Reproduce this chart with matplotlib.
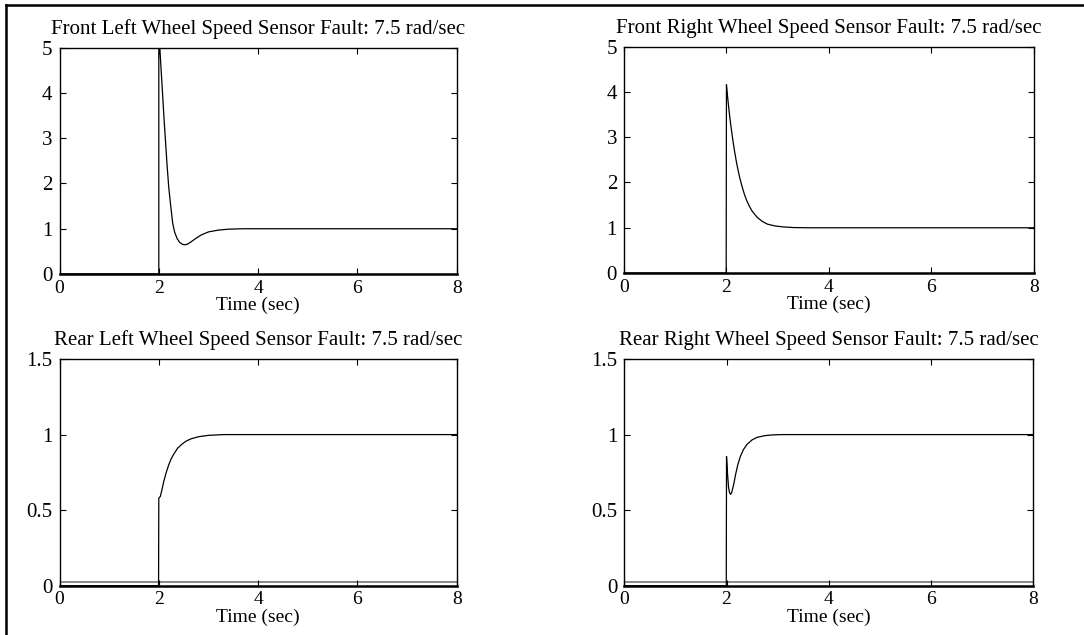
import matplotlib
matplotlib.use("Agg")
import matplotlib.pyplot as plt
from matplotlib.lines import Line2D

plt.rcParams['font.family'] = ['Liberation Serif', 'DejaVu Serif']

# titles of the four panels
titles = [
    "Front Left Wheel Speed Sensor Fault: 7.5 rad/sec",
    "Front Right Wheel Speed Sensor Fault: 7.5 rad/sec",
    "Rear Left Wheel Speed Sensor Fault: 7.5 rad/sec",
    "Rear Right Wheel Speed Sensor Fault: 7.5 rad/sec",
]

# front left residual
fl_t = [0, 1.995, 2.0, 2.0, 2.02, 2.05, 2.08, 2.11, 2.14, 2.17, 2.2, 2.24, 2.28, 2.32,
        2.37, 2.42, 2.47, 2.52, 2.58, 2.65, 2.75, 2.85, 3.0, 3.2, 3.4, 3.7, 4.0, 8.0]
fl_y = [0, 0, 0, 5.4, 5.0, 4.45, 3.9, 3.35, 2.85, 2.35, 1.92, 1.5, 1.12, 0.92,
        0.78, 0.7, 0.66, 0.645, 0.66, 0.71, 0.79, 0.86, 0.93, 0.97, 0.99, 1.0, 1.0, 1.0]

# front right residual
fr_t = [0, 1.995, 2.0, 2.02, 2.04, 2.06, 2.08, 2.1, 2.13, 2.16, 2.2, 2.25, 2.3, 2.35,
        2.4, 2.45, 2.5, 2.6, 2.7, 2.8, 2.95, 3.1, 3.3, 3.6, 8.0]
fr_y = [0, 0, 4.16, 3.92, 3.7, 3.5, 3.31, 3.14, 2.9, 2.68, 2.42, 2.15, 1.93, 1.74,
        1.59, 1.47, 1.37, 1.23, 1.14, 1.08, 1.04, 1.02, 1.005, 1.0, 1.0]

# rear left residual
rl_t = [0, 1.995, 2.0, 2.03, 2.06, 2.1, 2.15, 2.2, 2.25, 2.3, 2.38, 2.46, 2.55, 2.65,
        2.8, 3.0, 3.3, 8.0]
rl_y = [0, 0, 0.58, 0.59, 0.63, 0.69, 0.75, 0.8, 0.84, 0.87, 0.91, 0.935, 0.957, 0.972,
        0.986, 0.995, 1.0, 1.0]

# rear right residual
rr_t = [0, 1.995, 2.0, 2.02, 2.04, 2.06, 2.08, 2.1, 2.14, 2.18, 2.22, 2.27, 2.33, 2.4,
        2.5, 2.6, 2.75, 2.9, 3.1, 8.0]
rr_y = [0, 0, 0.855, 0.74, 0.65, 0.615, 0.605, 0.615, 0.67, 0.74, 0.8, 0.855, 0.9, 0.935,
        0.965, 0.982, 0.993, 0.998, 1.0, 1.0]

# threshold lines (grey) in the rear plots
thr_level = [0.022, 0.022]

ylims = [5, 5, 1.5, 1.5]
yticks_top = [0, 1, 2, 3, 4, 5]
yticks_bot = [0, 0.5, 1, 1.5]
ytick_labels_bot = ["0", "0.5", "1", "1.5"]
xticks = [0, 2, 4, 6, 8]

fig = plt.figure(figsize=(10.84, 6.35), dpi=100)

# axes boxes in figure fractions
boxes = [
    [0.0549, 0.5685, 0.3664, 0.3564],
    [0.5756, 0.5700, 0.3782, 0.3565],
    [0.0549, 0.0776, 0.3664, 0.3570],
    [0.5759, 0.0776, 0.3773, 0.3570],
]
series = [(fl_t, fl_y), (fr_t, fr_y), (rl_t, rl_y), (rr_t, rr_y)]

for i in range(4):
    ax = fig.add_axes(boxes[i])
    t, y = series[i]
    if i >= 2:
        ax.axhline(thr_level[i - 2], color='#888888', lw=1.4, zorder=1)
    ax.plot(t, y, color='black', lw=0.9, zorder=2)
    ax.set_xlim(0, 8)
    ax.set_ylim(0, ylims[i])
    ax.set_xticks(xticks)
    if i < 2:
        ax.set_yticks(yticks_top)
    else:
        ax.set_yticks(yticks_bot)
        ax.set_yticklabels(ytick_labels_bot)
    ax.tick_params(direction='in', top=True, right=True, length=4, width=0.8)
    ax.tick_params(axis='x', pad=4, labelsize=14)
    ax.tick_params(axis='y', pad=5, labelsize=15)
    for s in ax.spines.values():
        s.set_linewidth(1.0)
    ax.spines['bottom'].set_linewidth(1.8)
    ax.set_title(titles[i], fontsize=15, pad=10)
    ax.set_xlabel("Time (sec)", fontsize=14, labelpad=0)

# outer frame (only top and left edges visible)
fig.add_artist(Line2D([6 / 1084, 6 / 1084], [0, 1 - 5 / 635], transform=fig.transFigure,
                      color='black', lw=1.8))
fig.add_artist(Line2D([6 / 1084, 1], [1 - 5 / 635, 1 - 5 / 635], transform=fig.transFigure,
                      color='black', lw=1.8))

fig.savefig("out.png", dpi=100)
